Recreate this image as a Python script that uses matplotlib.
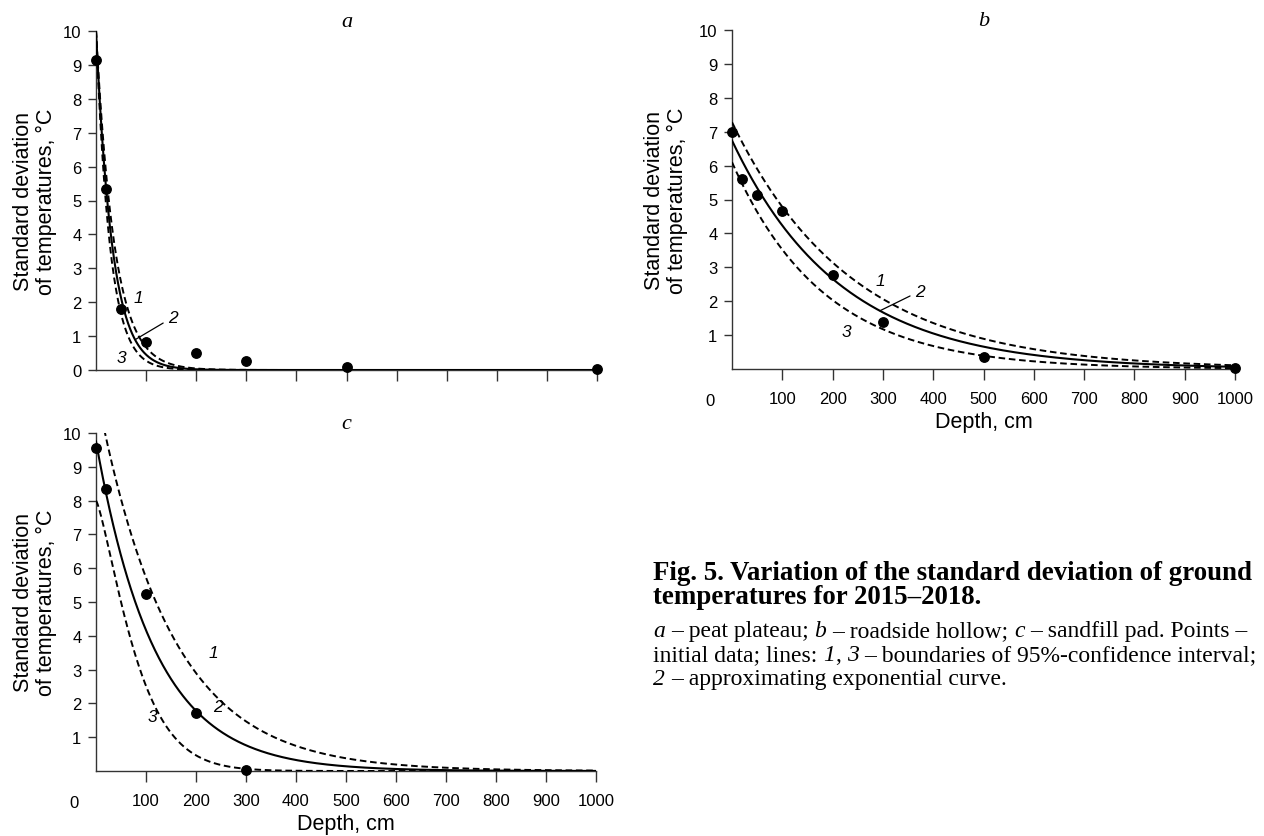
import matplotlib
matplotlib.use('Agg')
import matplotlib.pyplot as plt
import numpy as np

# measured depths, cm, and standard deviations of ground temperature, °C
depth_a = [0, 20, 50, 100, 200, 300, 500, 1000]
sd_a = [9.15, 5.35, 1.8, 0.83, 0.5, 0.28, 0.1, 0.03]
depth_b = [0, 20, 50, 100, 200, 300, 500, 1000]
sd_b = [7.0, 5.6, 5.13, 4.67, 2.78, 1.39, 0.36, 0.03]
depth_c = [0, 20, 100, 200, 300]
sd_c = [9.57, 8.33, 5.23, 1.73, 0.04]

# curves y = amp * exp(-(x / scale) ** shape), order: 1 (upper bound), 2 (fit), 3 (lower bound)
amp_a = [10.0, 10.0, 10.0]
scale_a = [37.0, 32.3, 27.8]
shape_a = [1.0, 1.0, 1.0]
amp_b = [7.28, 6.74, 6.1]
scale_b = [238.0, 215.0, 182.0]
shape_b = [1.0, 1.0, 1.0]
amp_c = [11.3, 9.75, 8.0]
scale_c = [147.0, 117.6, 89.4]
shape_c = [1.0, 1.0, 1.3]

# curve number labels: (depth, value) of each number
labels_a = [(84, 2.15), (154, 1.56), (50, 0.38)]
labels_b = [(294, 2.6), (374, 2.3), (227, 1.12)]
labels_c = [(234, 3.52), (244, 1.92), (112, 1.6)]
leader_a = 78
leader_b = 294

sans = 'Liberation Sans'
serif = 'Liberation Serif'
plt.rcParams['font.family'] = sans

W, H = 1264, 837
fig = plt.figure(figsize=(W / 100, H / 100), dpi=100)


def curve(x, amp, scale, shape):
    return amp * np.exp(-(np.asarray(x, float) / scale) ** shape)


def panel(rect, depth, sd, amp, scale, shape, letter, labels, leader, xlabels, ylab_off):
    l, t, r, b = rect
    ax = fig.add_axes([l / W, 1 - b / H, (r - l) / W, (b - t) / H])
    x = np.linspace(0, 1000, 1001)
    for i in range(3):
        y = curve(x, amp[i], scale[i], shape[i])
        if i == 1:
            ax.plot(x, y, color='black', lw=1.5, zorder=3)
        else:
            ax.plot(x, y, color='black', lw=1.4, ls=(0, (3.4, 1.9)), zorder=3)
    ax.plot(depth, sd, 'o', color='black', ms=6.8, clip_on=False, zorder=5)

    for i, (lx, ly) in enumerate(labels):
        txt = str(i + 1)
        if i == 1 and leader is not None:
            ax.annotate(txt, xy=(leader, curve(leader, amp[1], scale[1], shape[1])),
                        xytext=(lx, ly), ha='center', va='center', fontsize=12.5,
                        style='italic',
                        arrowprops=dict(arrowstyle='-', lw=0.9, color='black',
                                        shrinkA=2, shrinkB=0))
        else:
            ax.text(lx, ly, txt, ha='center', va='center', fontsize=12.5, style='italic')

    ax.set_xlim(0, 1000)
    ax.set_ylim(0, 10)
    for s in ['top', 'right']:
        ax.spines[s].set_visible(False)
    for s in ['left', 'bottom']:
        ax.spines[s].set_color('#333333')
        ax.spines[s].set_linewidth(1.0)

    ax.set_xticks(range(100, 1001, 100))
    if xlabels:
        ax.set_yticks(range(1, 11))
        ax.tick_params(axis='x', length=8, width=1, color='#333333', labelsize=12, pad=7.5)
        ax.annotate('0', xy=(0, 0), xytext=(-16, -17.5), textcoords='offset points',
                    ha='center', va='top', fontsize=12)
        ax.set_xlabel('Depth, cm', fontsize=15.5, labelpad=4)
    else:
        ax.set_yticks(range(0, 11))
        ax.tick_params(axis='x', length=8, width=1, color='#333333', labelbottom=False)
    ax.tick_params(axis='y', length=6, width=1, color='#333333', labelsize=12, pad=4.5)

    ax.set_ylabel('Standard deviation\nof temperatures, °C', fontsize=15.5,
                  linespacing=1.12, multialignment='center')
    ax.yaxis.set_label_coords(-ylab_off / (r - l), 0.5)
    ax.set_title(letter, fontfamily=serif, style='italic', fontsize=16, pad=3.5)
    return ax


panel((96, 32, 597, 371), depth_a, sd_a, amp_a, scale_a, shape_a, 'a', labels_a,
      leader_a, False, 39)
panel((732, 31, 1235, 370), depth_b, sd_b, amp_b, scale_b, shape_b, 'b', labels_b,
      leader_b, True, 44)
panel((96, 434, 596, 772), depth_c, sd_c, amp_c, scale_c, shape_c, 'c', labels_c,
      None, True, 39)

# figure caption, written piece by piece so that letters and numbers can be italic
renderer = fig.canvas.get_renderer()


def text_width(s, **kw):
    t = fig.text(0, 0, s, **kw)
    w = t.get_window_extent(renderer).width
    t.remove()
    return w


def caption_line(y_px, pieces, size, weight='normal'):
    kw = dict(fontfamily=serif, fontsize=size, fontweight=weight)
    space = text_width('n n', **kw) - text_width('nn', **kw)
    x = 653.0
    for txt, italic, gap in pieces:
        style = 'italic' if italic else 'normal'
        t = fig.text(x / W, 1 - y_px / H, txt, style=style, va='baseline', ha='left', **kw)
        x += t.get_window_extent(renderer).width + (space if gap else 0)


caption_line(580, [('Fig. 5. Variation of the standard deviation of ground', 0, 0)],
             19.4, 'bold')
caption_line(604, [('temperatures for 2015–2018.', 0, 0)], 19.4, 'bold')
caption_line(637, [('a', 1, 1), ('– peat plateau;', 0, 1), ('b', 1, 1),
                   ('– roadside hollow;', 0, 1), ('c', 1, 1),
                   ('– sandfill pad. Points –', 0, 0)], 17)
caption_line(661, [('initial data; lines:', 0, 1), ('1', 1, 0), (',', 0, 1), ('3', 1, 1),
                   ('– boundaries of 95%-confidence interval;', 0, 0)], 17)
caption_line(685, [('2', 1, 1), ('– approximating exponential curve.', 0, 0)], 17)

fig.savefig('out.png', dpi=100)
